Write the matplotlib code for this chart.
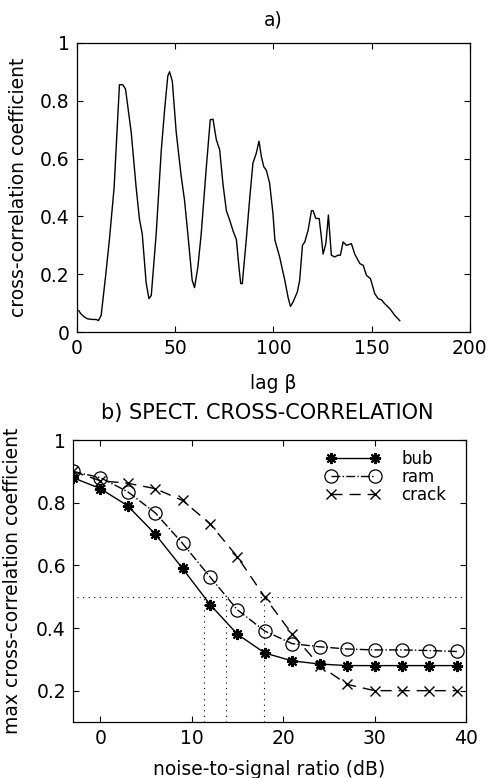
import matplotlib
matplotlib.use("Agg")
import matplotlib.pyplot as plt
import numpy as np

plt.rcParams['font.family'] = ['DejaVu Sans']
plt.rcParams['font.size'] = 13.5

# --- a) cross-correlation vs lag (values read off the picture)
lag = [1, 2, 4, 5.6, 8, 10, 11, 12.4, 14.6, 16.6, 19, 21.7, 23.4, 24.8, 27.7, 30.2,
       31.9, 33.3, 35.3, 36.7, 37.9, 40.4, 43, 44.7, 46.3, 47.2, 48.6, 50.6, 53.1,
       54.8, 56.5, 58.7, 59.9, 61.6, 63.3, 65.9, 67.9, 69.3, 71, 72.7, 74.4, 76.1,
       77.8, 79.5, 81.2, 82.5, 83.4, 84.2, 86.2, 87.9, 89.6, 91.3, 92.7, 93.9, 95.1,
       96.4, 98.1, 99.8, 100.8, 103.2, 105.8, 107.5, 108.7, 110, 112.2, 113.4, 114.8,
       116, 117.7, 119.4, 120.2, 121.6, 123.3, 124.4, 125.3, 126.7, 127.5, 128, 128.7,
       129.5, 131.2, 132.9, 134.1, 135.5, 137.2, 139.7, 141.4, 144, 145.7, 147.4,
       149.4, 151.6, 153.3, 155, 156.7, 159.3, 161.8, 164.3]
xcorr = [0.075, 0.064, 0.052, 0.046, 0.044, 0.044, 0.040, 0.058, 0.19, 0.32, 0.50,
         0.855, 0.855, 0.84, 0.69, 0.50, 0.39, 0.34, 0.17, 0.116, 0.127, 0.34, 0.63,
         0.77, 0.885, 0.90, 0.867, 0.69, 0.54, 0.457, 0.34, 0.18, 0.154, 0.225, 0.34,
         0.57, 0.734, 0.736, 0.665, 0.63, 0.51, 0.42, 0.387, 0.35, 0.32, 0.225, 0.168,
         0.168, 0.318, 0.457, 0.584, 0.618, 0.66, 0.607, 0.572, 0.56, 0.515, 0.41,
         0.318, 0.26, 0.18, 0.12, 0.089, 0.104, 0.139, 0.18, 0.30, 0.312, 0.353, 0.42,
         0.42, 0.393, 0.393, 0.33, 0.27, 0.306, 0.364, 0.405, 0.34, 0.266, 0.26, 0.266,
         0.266, 0.312, 0.30, 0.306, 0.27, 0.237, 0.231, 0.196, 0.185, 0.133, 0.116,
         0.112, 0.098, 0.081, 0.058, 0.040]

# --- b) max cross-correlation vs noise-to-signal ratio
nsr = [-3, 0, 3, 6, 9, 12, 15, 18, 21, 24, 27, 30, 33, 36, 39]
bub = [0.88, 0.845, 0.79, 0.70, 0.59, 0.475, 0.38, 0.32, 0.295, 0.285, 0.28, 0.28, 0.28, 0.28, 0.28]
ram = [0.90, 0.88, 0.835, 0.768, 0.67, 0.563, 0.458, 0.39, 0.35, 0.34, 0.333, 0.33, 0.33, 0.328, 0.325]
crack = [0.90, 0.87, 0.862, 0.845, 0.807, 0.733, 0.627, 0.498, 0.38, 0.28, 0.22, 0.20, 0.20, 0.20, 0.20]
half_level = 0.5
half_crossings = [11.3, 13.8, 17.9]

fig = plt.figure(figsize=(4.89, 7.78), dpi=100)
ax1 = fig.add_axes([0.157, 0.573, 0.804, 0.372])
ax2 = fig.add_axes([0.149, 0.072, 0.804, 0.3624])

ax1.plot(lag, xcorr, color='black', lw=1.0)
ax1.set_xlim(0, 200)
ax1.set_ylim(0, 1)
ax1.set_xticks([0, 50, 100, 150, 200])
ax1.set_yticks([0, 0.2, 0.4, 0.6, 0.8, 1])
ax1.set_yticklabels(['0', '0.2', '0.4', '0.6', '0.8', '1'])
ax1.set_xlabel('lag β')
ax1.set_ylabel('cross-correlation coefficient')
ax1.xaxis.set_label_coords(0.5, -0.145)
ax1.yaxis.set_label_coords(-0.125, 0.5)
ax1.text(0.5, 1.08, 'a)', transform=ax1.transAxes, ha='center', va='center')

star = (8, 2, 0)
ax2.plot(nsr, bub, color='black', lw=1.0, ls='-', marker=star, ms=8, mew=1.5, label='bub')
ax2.plot(nsr, ram, color='black', lw=1.0, ls='-.', marker='o', ms=9.5, mfc='none', mew=0.9, label='ram')
ax2.plot(nsr, crack, color='black', lw=1.0, ls=(0, (8, 5)), marker='x', ms=6.5, mew=1.0, label='crack')
ax2.plot([-2.5, 40], [half_level, half_level], color='black', lw=0.8, ls=(0, (1, 4)))
for xc in half_crossings:
    ax2.plot([xc, xc], [0.1, half_level], color='black', lw=0.8, ls=(0, (1, 4)))
ax2.set_xlim(-3, 40)
ax2.set_ylim(0.1, 1)
ax2.set_xticks([0, 10, 20, 30, 40])
ax2.set_yticks([0.2, 0.4, 0.6, 0.8, 1])
ax2.set_yticklabels(['0.2', '0.4', '0.6', '0.8', '1'])
ax2.set_xlabel('noise-to-signal ratio (dB)')
ax2.set_ylabel('max cross-correlation coefficient')
ax2.xaxis.set_label_coords(0.5, -0.135)
ax2.yaxis.set_label_coords(-0.13, 0.5)
ax2.text(0.495, 1.096, 'b) SPECT. CROSS-CORRELATION', transform=ax2.transAxes,
         ha='center', va='center', fontsize=15)
ax2.legend(loc='upper right', bbox_to_anchor=(0.95, 0.965), frameon=False, numpoints=2,
           handlelength=3.2, handletextpad=1.3, labelspacing=0, fontsize=12,
           borderaxespad=0, borderpad=0)

for ax in (ax1, ax2):
    ax.tick_params(direction='in', top=True, right=True, length=4, width=0.8, pad=5)
    for s in ax.spines.values():
        s.set_linewidth(0.9)

fig.savefig('out.png', dpi=100)
